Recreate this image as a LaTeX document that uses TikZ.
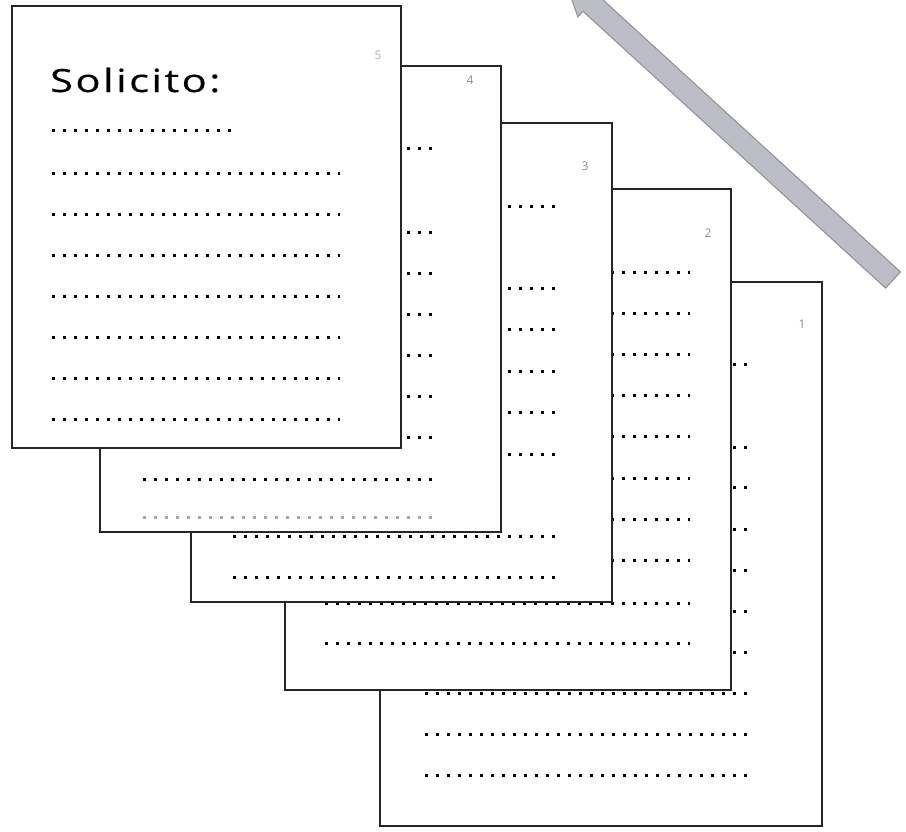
\documentclass[tikz,border=0pt]{standalone}
\usepackage{fontspec}
\newfontfamily\solfont[LetterSpace=6, FakeBold=0.4]{Open Sans}
\newfontfamily\numfont{Open Sans}
\definecolor{arrowfill}{RGB}{188,189,198}
\definecolor{arrowline}{RGB}{140,141,150}
\tikzset{
  page/.style={fill=white, draw=black!85, line width=1.5pt},
  dotline/.style={line width=3pt, dash pattern=on 3pt off 8pt},
  pagenum/.style={font=\numfont\fontsize{12}{12}\selectfont, text=black!45, inner sep=0pt}
}
\begin{document}
\begin{tikzpicture}[x=1pt, y=-1pt]
  \clip (0,0) rectangle (906,831);
  % grey arrow
  \filldraw[fill=arrowfill, draw=arrowline, line width=1pt]
    (900.4,271.9) -- (597.8,-4.9) -- (602.9,-10.5) -- (564.6,-20.4) --
    (577.9,16.9) -- (583.0,11.3) -- (885.6,288.1) -- cycle;
  % page 1
  \draw[page] (380,282) rectangle (822,826);
  \node[pagenum] (num1) at (802,324) {1};
  \foreach \y in {364,447,487,529,570,611,652,693,734,775}
    \draw[dotline] (425,\y) -- (748,\y);
  % page 2
  \draw[page] (285,189) rectangle (731,690);
  \node[pagenum] (num2) at (708,233) {2};
  \foreach \y in {272,313,354,395,436,478,519,560,603,643}
    \draw[dotline] (325,\y) -- (690,\y);
  % page 3
  \draw[page] (191,123) rectangle (612,602);
  \node[pagenum] (num3) at (585,166) {3};
  \foreach \y in {206,288,329,371,412,454,536,577}
    \draw[dotline] (233,\y) -- (560,\y);
  % page 4
  \draw[page] (100,66) rectangle (501,532);
  \node[pagenum] (num4) at (470,80) {4};
  \foreach \y in {148,232,273,314,355,396,437,479}
    \draw[dotline] (143,\y) -- (433,\y);
  \draw[dotline, black!35] (143,517) -- (433,517);
  % page 5 (front)
  \draw[page, line width=2pt] (12,6) rectangle (401,448);
  \node[pagenum, text=black!30] (num5) at (378,55) {5};
  \node[anchor=base west, inner sep=0pt, font=\solfont\fontsize{32}{34}\selectfont]
    (title) at (50,92) {\scalebox{1.3}[1]{Solicito:}};
  \draw[dotline] (52,130) -- (234,130);
  \foreach \y in {173,214,255,296,337,378,419}
    \draw[dotline] (52,\y) -- (340,\y);
\end{tikzpicture}
\end{document}
